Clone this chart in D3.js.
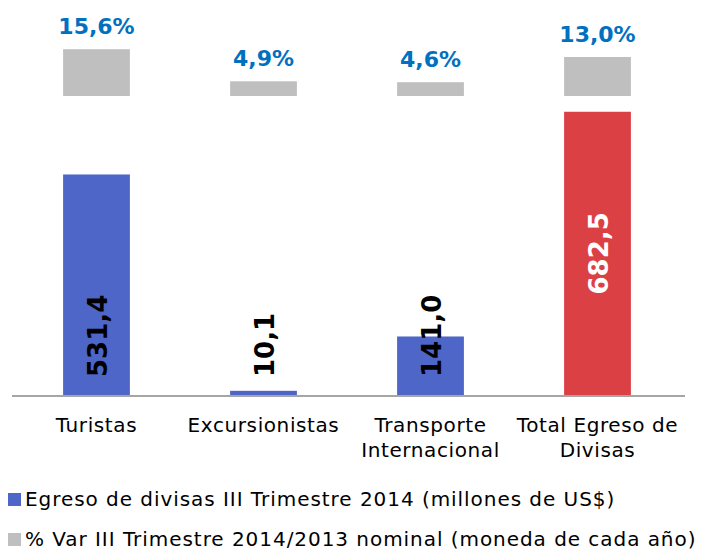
<!DOCTYPE html>
<html>
<head>
<meta charset="utf-8">
<script src="https://cdn.jsdelivr.net/npm/d3@7"></script>
<style>
  body { margin: 0; background: #fff; }
  svg { font-family: Verdana, "DejaVu Sans", sans-serif; }
</style>
</head>
<body>
<div id="chart"></div>
<script>
const width = 705;
const height = 550;

// datos
const categorias = [['Turistas'], ['Excursionistas'], ['Transporte', 'Internacional'], ['Total Egreso de', 'Divisas']];
const egreso = [531.4, 10.1, 141.0, 682.5];
const variacion = [15.6, 4.9, 4.6, 13.0];
const esTotal = [false, false, false, true];
const leyenda = [
  'Egreso de divisas III Trimestre 2014 (millones de US$)',
  '% Var III Trimestre 2014/2013 nominal (moneda de cada año)'
];

const azul = '#4E66C8';
const rojo = '#DB4045';
const gris = '#BFBFBF';
const azulTexto = '#0070C0';

const svg = d3.select('#chart')
  .append('svg')
  .attr('width', width)
  .attr('height', height);

const ids = d3.range(categorias.length);

// escala X
const xScale = d3.scaleBand()
  .domain(ids)
  .range([13, 681])
  .paddingInner(0.6)
  .paddingOuter(0.3);

// eje principal (millones US$)
const yScale = d3.scaleLinear()
  .domain([0, 800])
  .range([395, 63]);

// eje secundario (% var)
const y2Scale = d3.scaleLinear()
  .domain([-100, 20])
  .range([396, 36]);

// barras de egreso
svg.selectAll('.bar')
  .data(ids)
  .enter()
  .append('rect')
  .attr('class', 'bar')
  .attr('x', i => xScale(i))
  .attr('y', i => yScale(egreso[i]))
  .attr('width', xScale.bandwidth())
  .attr('height', i => yScale(0) - yScale(egreso[i]))
  .attr('fill', i => esTotal[i] ? rojo : azul);

// barras de variación
svg.selectAll('.barvar')
  .data(ids)
  .enter()
  .append('rect')
  .attr('class', 'barvar')
  .attr('x', i => xScale(i))
  .attr('y', i => y2Scale(variacion[i]))
  .attr('width', xScale.bandwidth())
  .attr('height', i => y2Scale(0) - y2Scale(variacion[i]))
  .attr('fill', gris);

// línea del eje X
svg.append('line')
  .attr('x1', 12)
  .attr('x2', 685)
  .attr('y1', yScale(0) + 1)
  .attr('y2', yScale(0) + 1)
  .attr('stroke', '#A6A6A6')
  .attr('stroke-width', 2);

const fmt = v => d3.format('.1f')(v).replace('.', ',');

// etiquetas % var
svg.selectAll('.labelvar')
  .data(ids)
  .enter()
  .append('text')
  .attr('class', 'labelvar')
  .attr('x', i => xScale(i) + xScale.bandwidth() / 2)
  .attr('y', i => y2Scale(variacion[i]) - 15)
  .attr('text-anchor', 'middle')
  .attr('font-size', 22)
  .attr('font-weight', 'bold')
  .attr('fill', azulTexto)
  .text(i => fmt(variacion[i]) + '%');

// etiquetas egreso (verticales)
svg.selectAll('.labelbar')
  .data(ids)
  .enter()
  .append('text')
  .attr('class', 'labelbar')
  .attr('transform', i => {
    const cx = xScale(i) + xScale.bandwidth() / 2 + 1;
    const cy = esTotal[i] ? (yScale(egreso[i]) + yScale(0)) / 2 : yScale(0) - 18;
    return `translate(${cx},${cy}) rotate(-90)`;
  })
  .attr('dy', '0.36em')
  .attr('text-anchor', i => esTotal[i] ? 'middle' : 'start')
  .attr('font-size', 26)
  .attr('font-weight', 'bold')
  .attr('fill', i => esTotal[i] ? '#fff' : '#000')
  .text(i => fmt(egreso[i]));

// etiquetas de categorías
const cat = svg.selectAll('.cat')
  .data(ids)
  .enter()
  .append('text')
  .attr('class', 'cat')
  .attr('x', i => xScale(i) + xScale.bandwidth() / 2)
  .attr('y', 432)
  .attr('text-anchor', 'middle')
  .attr('font-size', 20)
  .attr('letter-spacing', 0.6)
  .attr('fill', '#000');

cat.selectAll('tspan')
  .data(i => categorias[i].map(t => ({ t: t, i: i })))
  .enter()
  .append('tspan')
  .attr('x', d => xScale(d.i) + xScale.bandwidth() / 2)
  .attr('dy', (d, j) => j === 0 ? 0 : 25)
  .text(d => d.t);

// leyenda
const colLeyenda = [azul, gris];
const yLeyenda = [506, 546];

leyenda.forEach((t, i) => {
  svg.append('rect')
    .attr('x', 8)
    .attr('y', yLeyenda[i] - 13)
    .attr('width', 13)
    .attr('height', 13)
    .attr('fill', colLeyenda[i]);
  svg.append('text')
    .attr('x', 25)
    .attr('y', yLeyenda[i])
    .attr('font-size', 20)
    .attr('letter-spacing', 0.95)
    .attr('fill', '#000')
    .text(t);
});
</script>
</body>
</html>
